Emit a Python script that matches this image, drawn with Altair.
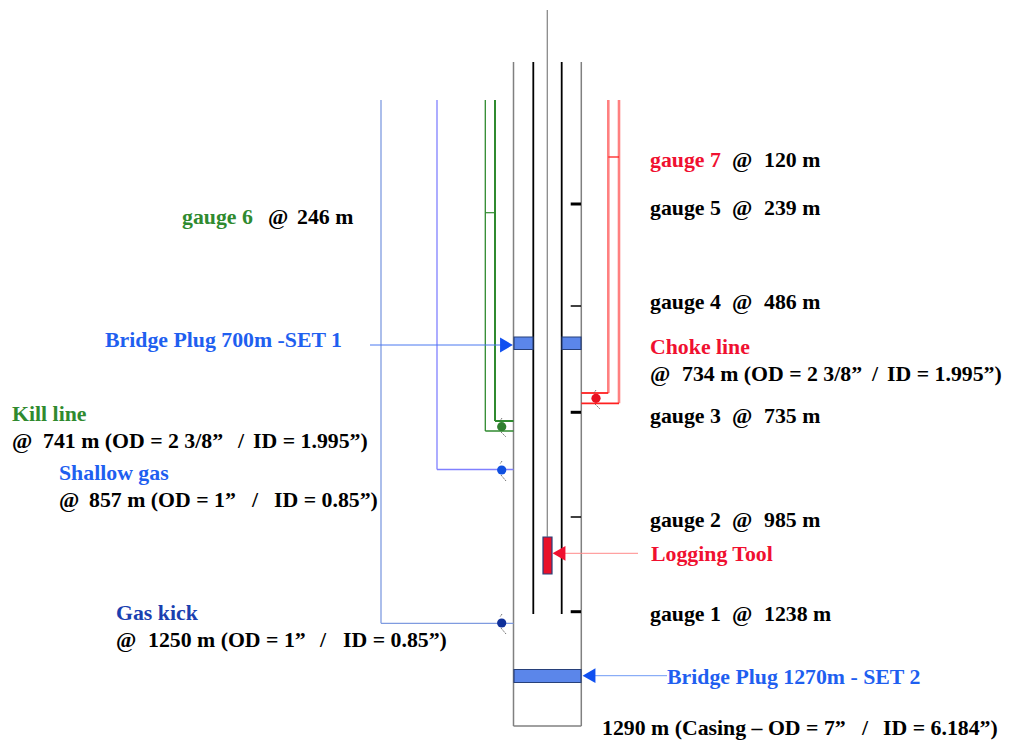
import altair as alt
import pandas as pd

X0, X1, Y0, Y1 = 8, 1002, 8, 740
FONT = "Liberation Serif"

# straight pipe and wire runs: x1, x2, y1, y2, colour, width
seg_x1 = [547.3, 513.5, 581.3, 513.5, 533.3, 561.7,
          381, 381, 437, 437,
          485.3, 495, 485.3, 495, 485.3,
          608.3, 619, 581.3, 581.3, 608.3,
          570.7, 570.7, 570.7, 570.7, 570.7,
          370, 595, 565]
seg_x2 = [547.3, 513.5, 581.3, 581.3, 533.3, 561.7,
          381, 513.5, 437, 513.5,
          485.3, 495, 513.5, 513.5, 495,
          608.3, 619, 608.3, 619, 619,
          581, 581, 581, 581, 581,
          501, 667, 638]
seg_y1 = [10, 62, 62, 726, 62, 62,
          100, 623.3, 100, 469.5,
          100, 100, 431, 421, 212.7,
          100, 100, 393, 403.3, 157,
          204, 306, 412.3, 517, 611.7,
          345, 675.7, 553.3]
seg_y2 = [536.7, 726, 726, 726, 614, 614,
          623.3, 623.3, 469.5, 469.5,
          431, 421, 431, 421, 212.7,
          393, 403.3, 393, 403.3, 157,
          204, 306, 412.3, 517, 611.7,
          345, 675.7, 553.3]
seg_color = ["#8a8a8a", "#808080", "#808080", "#808080", "#000000", "#000000",
             "#7f9be0", "#7f9be0", "#8080ff", "#8080ff",
             "#2f8a2f", "#2f8a2f", "#2f8a2f", "#2f8a2f", "#2f8a2f",
             "#ff8080", "#ff8080", "#ff2020", "#ff2020", "#ff2020",
             "#000000", "#000000", "#000000", "#000000", "#000000",
             "#4a78f0", "#6f9bf5", "#ff8a8a"]
seg_width = [1.3, 1.5, 1.5, 1.5, 1.8, 1.8,
             1.3, 1.3, 1.3, 1.3,
             1.3, 2, 1.5, 2, 1.2,
             2.6, 2.6, 1.8, 1.8, 1.3,
             3, 1.5, 3, 1.5, 3,
             1, 1, 1]

# bridge plugs and logging tool: x1, x2, y1, y2, fill
box_x1 = [514, 562, 514, 543]
box_x2 = [533, 581, 581, 552]
box_y1 = [337, 337, 669.5, 537]
box_y2 = [349.5, 349.5, 682.5, 574]
box_fill = ["#5b86ea", "#5b86ea", "#5b86ea", "#e8102a"]

# valves on each line
dot_x = [596, 501.7, 501.7, 501.7]
dot_y = [398.3, 426.7, 470, 623]
dot_color = ["#e81020", "#2f7f2f", "#1050e0", "#10309a"]

# little hatch strokes on the valves
hatch_x1 = [595, 501, 501, 501, 596, 502, 502, 502]
hatch_x2 = [600, 506, 506, 506, 594, 500, 500, 500]
hatch_y1 = [404, 432, 475, 628, 390, 418, 461, 614]
hatch_y2 = [409, 437, 481, 634, 393, 421, 464, 617]

# arrow heads
head_x = [506.5, 589, 559]
head_y = [345, 675.7, 553.3]
head_shape = ["triangle-right", "triangle-left", "triangle-left"]
head_color = ["#1050f0", "#1050f0", "#f01030"]

# labels, split so that each run starts where the reference has it
txt = ["gauge 7", "@", "120 m", "gauge 5", "@", "239 m", "gauge 4", "@", "486 m", "Choke line",
       "@", "734 m (OD = 2 3/8”", "/", "ID = 1.995”)", "gauge 3", "@", "735 m", "gauge 2", "@", "985 m",
       "Logging Tool", "gauge 1", "@", "1238 m", "Bridge Plug 1270m - SET 2",
       "1290 m (Casing – OD = 7”", "/", "ID = 6.184”)", "gauge 6", "@", "246 m",
       "Bridge Plug 700m -SET 1", "Kill line", "@", "741 m (OD = 2 3/8”", "/", "ID = 1.995”)",
       "Shallow gas", "@", "857 m (OD = 1”", "/", "ID = 0.85”)", "Gas kick",
       "@", "1250 m (OD = 1”", "/", "ID = 0.85”)"]
txt_x = [650, 732, 764, 650, 732, 764, 650, 732, 764, 650,
         650, 682, 872, 887, 650, 732, 764, 650, 732, 764,
         651, 650, 732, 764, 667,
         602, 862, 883, 182, 268, 297,
         105, 12, 12, 43, 238, 253,
         59, 59, 89, 252, 274, 116,
         116, 148, 320, 343]
txt_y = [160, 160, 160, 208, 208, 208, 302, 302, 302, 347,
         374, 374, 374, 374, 416, 416, 416, 520, 520, 520,
         554, 614, 614, 614, 677,
         728, 728, 728, 217, 217, 217,
         340, 414, 441, 441, 441, 441,
         473, 500, 500, 500, 500, 613,
         640, 640, 640, 640]
BK = "#000000"
RD = "#f01030"
GN = "#2f8a2f"
BL = "#1f5ff0"
txt_color = [RD, BK, BK, BK, BK, BK, BK, BK, BK, RD,
             BK, BK, BK, BK, BK, BK, BK, BK, BK, BK,
             RD, BK, BK, BK, BL,
             BK, BK, BK, GN, BK, BK,
             BL, GN, BK, BK, BK, BK,
             BL, BK, BK, BK, BK, "#1a3fb0",
             BK, BK, BK, BK]

xs = alt.Scale(domain=[X0, X1], nice=False, zero=False)
ys = alt.Scale(domain=[Y1, Y0], nice=False, zero=False)
X = lambda f: alt.X(f, type="quantitative", scale=xs, axis=None)
Y = lambda f: alt.Y(f, type="quantitative", scale=ys, axis=None)

segs = pd.DataFrame(dict(x=seg_x1, x2=seg_x2, y=seg_y1, y2=seg_y2, c=seg_color, w=seg_width))
boxes = pd.DataFrame(dict(x=box_x1, x2=box_x2, y=box_y1, y2=box_y2, c=box_fill))
dots = pd.DataFrame(dict(x=dot_x, y=dot_y, c=dot_color))
hatch = pd.DataFrame(dict(x=hatch_x1, x2=hatch_x2, y=hatch_y1, y2=hatch_y2))
heads = pd.DataFrame(dict(x=head_x, y=head_y, s=head_shape, c=head_color))
labels = pd.DataFrame(dict(x=txt_x, y=txt_y, t=txt, c=txt_color))

seg_layer = alt.Chart(segs).mark_rule(clip=False).encode(
    x=X("x"), x2="x2", y=Y("y"), y2="y2",
    color=alt.Color("c:N", scale=None),
    strokeWidth=alt.StrokeWidth("w:Q", scale=None),
)
box_layer = alt.Chart(boxes).mark_rect(stroke="#27407a", strokeWidth=1.2).encode(
    x=X("x"), x2="x2", y=Y("y"), y2="y2", color=alt.Color("c:N", scale=None),
)
hatch_layer = alt.Chart(hatch).mark_rule(color="#555555", strokeWidth=0.8, strokeDash=[2, 1]).encode(
    x=X("x"), x2="x2", y=Y("y"), y2="y2",
)
dot_layer = alt.Chart(dots).mark_point(filled=True, opacity=1, size=85, shape="circle").encode(
    x=X("x"), y=Y("y"), color=alt.Color("c:N", scale=None),
)
head_layer = alt.Chart(heads).mark_point(filled=True, opacity=1, size=220).encode(
    x=X("x"), y=Y("y"), color=alt.Color("c:N", scale=None),
    shape=alt.Shape("s:N", scale=None),
)
text_layer = alt.Chart(labels).mark_text(
    align="left", baseline="middle", font=FONT, fontWeight="bold", fontSize=21.8
).encode(x=X("x"), y=Y("y"), text="t:N", color=alt.Color("c:N", scale=None))

chart = alt.layer(seg_layer, box_layer, hatch_layer, dot_layer, head_layer, text_layer).properties(
    width=X1 - X0, height=Y1 - Y0, padding=0, background="white",
    autosize=alt.AutoSizeParams(type="none"),
).configure_view(stroke=None)

chart.save("out.html", embed_options={"renderer": "svg", "actions": False})
